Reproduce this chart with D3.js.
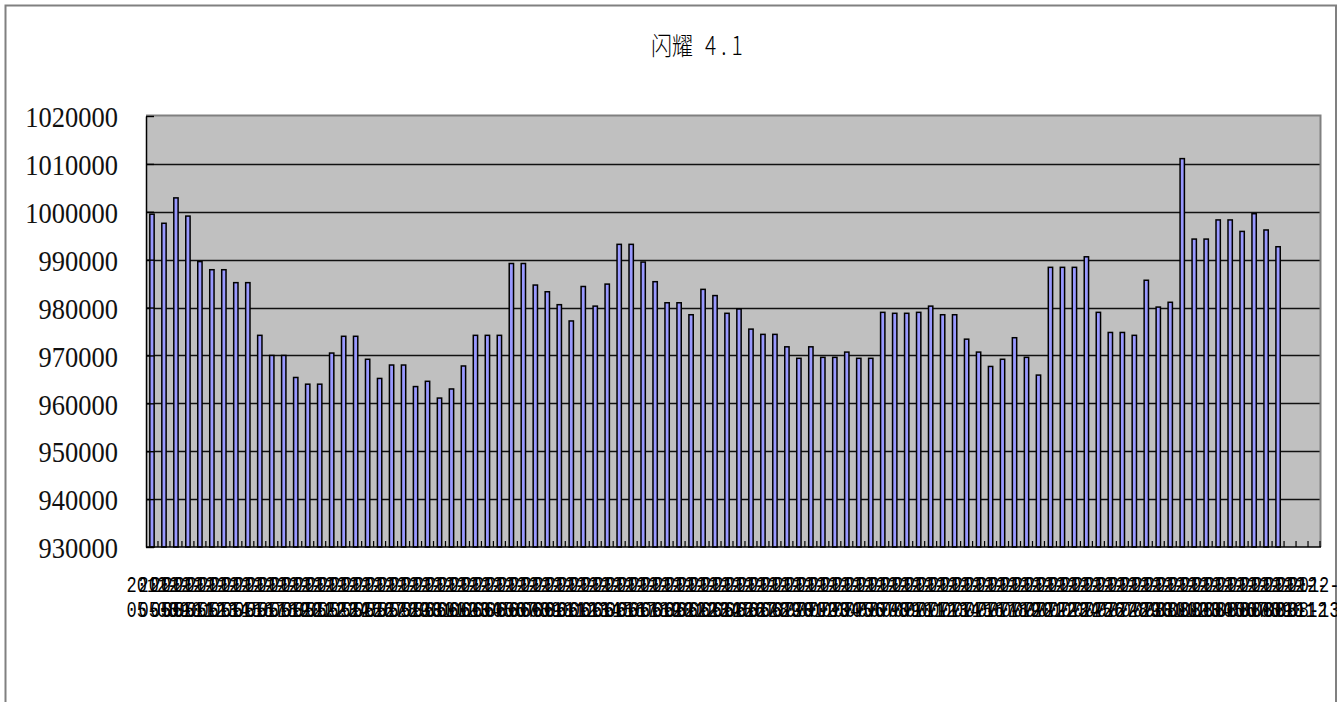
<!DOCTYPE html>
<html>
<head>
<meta charset="utf-8">
<script src="https://cdn.jsdelivr.net/npm/d3@7"></script>
<style>
  html, body { margin: 0; padding: 0; background: #fff; }
  svg { display: block; }
</style>
</head>
<body>
<svg id="chart" width="1343" height="702"></svg>
<script>
// category labels: year row + month-day row
var yearLabel = "2012-";
var dayLabels = [
  "05-08","05-09","05-10","05-11","05-12","05-13","05-14","05-15","05-16","05-17",
  "05-18","05-19","05-20","05-21","05-22","05-23","05-24","05-25","05-26","05-27",
  "05-28","05-29","05-30","05-31","06-01","06-02","06-03","06-04","06-05","06-06",
  "06-07","06-08","06-09","06-10","06-11","06-12","06-13","06-14","06-15","06-16",
  "06-17","06-18","06-19","06-20","06-21","06-22","06-23","06-24","06-25","06-26",
  "06-27","06-28","06-29","06-30","07-01","07-02","07-03","07-04","07-05","07-06",
  "07-07","07-08","07-09","07-10","07-11","07-12","07-13","07-14","07-15","07-16",
  "07-17","07-18","07-19","07-20","07-21","07-22","07-23","07-24","07-25","07-26",
  "07-27","07-28","07-29","07-30","07-31","08-01","08-02","08-03","08-04","08-05",
  "08-06","08-07","08-08","08-09","08-10","08-11","08-12","08-13"
];

// one value per day (last three days have no value yet)
var values = [
  999500, 997600, 1002900, 999100, 989600, 987900, 987900, 985200, 985200, 974200,
  970000, 970000, 965400, 964000, 964000, 970500, 974000, 974000, 969200, 965200,
  968000, 968000, 963500, 964600, 961100, 963000, 967800, 974200, 974200, 974200,
  989200, 989200, 984700, 983300, 980600, 977200, 984400, 980300, 984900, 993200,
  993200, 989500, 985400, 981000, 981000, 978500, 983800, 982500, 978800, 979700,
  975500, 974400, 974400, 971800, 969400, 971800, 969600, 969600, 970700, 969400,
  969400, 979000, 978800, 978800, 979000, 980300, 978500, 978500, 973400, 970700,
  967700, 969200, 973700, 969600, 965900, 988400, 988400, 988400, 990600, 979000,
  974800, 974800, 974200, 985700, 980100, 981100, 1011100, 994300, 994300, 998300,
  998300, 995900, 999600, 996200, 992700
];

var yTicks = [930000, 940000, 950000, 960000, 970000, 980000, 990000, 1000000, 1010000, 1020000];

var svg = d3.select("#chart");

// outer chart frame
svg.append("rect")
  .attr("x", 5.5).attr("y", 5.5)
  .attr("width", 1330.5).attr("height", 800)
  .attr("fill", "#fff")
  .attr("stroke", "#808080")
  .attr("stroke-width", 2);

var plotL = 146, plotR = 1320, plotT = 116, plotB = 547;

var x = d3.scaleBand()
  .domain(dayLabels)
  .range([plotL, plotR])
  .padding(0);

var y = d3.scaleLinear()
  .domain([930000, 1020000])
  .range([plotB, plotT]);

// plot area
svg.append("rect")
  .attr("x", plotL).attr("y", plotT)
  .attr("width", plotR - plotL).attr("height", plotB - plotT)
  .attr("fill", "#c0c0c0");

// gridlines
svg.append("g")
  .selectAll("line")
  .data(yTicks.slice(1, -1))
  .join("line")
  .attr("x1", plotL).attr("x2", plotR)
  .attr("y1", function(d) { return Math.round(y(d)) + 0.5 })
  .attr("y2", function(d) { return Math.round(y(d)) + 0.5 })
  .attr("stroke", "#111")
  .attr("stroke-width", 1.4);

// plot border (top, right)
svg.append("path")
  .attr("d", "M" + plotL + "," + (plotT - 0.5) + "H" + (plotR + 0.5) + "V" + plotB)
  .attr("fill", "none")
  .attr("stroke", "#808080")
  .attr("stroke-width", 2);

// bars
var barW = x.bandwidth() * 0.36;
svg.append("g")
  .selectAll("rect")
  .data(values)
  .join("rect")
  .attr("x", function(d, i) { return x(dayLabels[i]) + (x.bandwidth() - barW) / 2 })
  .attr("y", function(d) { return y(d) })
  .attr("width", barW)
  .attr("height", function(d) { return plotB - y(d) })
  .attr("fill", "#9999ff")
  .attr("stroke", "#000")
  .attr("stroke-width", 1.5);

// y axis, inside ticks
var yAxis = svg.append("g")
  .attr("transform", "translate(" + plotL + ",0)")
  .call(d3.axisLeft(y).tickValues(yTicks).tickSizeInner(-8).tickSizeOuter(0).tickFormat(d3.format("d")));
yAxis.select(".domain").attr("stroke", "#000").attr("stroke-width", 1.5);
yAxis.selectAll(".tick line").attr("stroke", "#000").attr("stroke-width", 1.4);
yAxis.selectAll(".tick text")
  .attr("x", -28)
  .attr("y", 0)
  .attr("dy", "0.36em")
  .attr("font-family", "'Liberation Serif', 'DejaVu Serif', serif")
  .attr("font-size", 26.5)
  .attr("fill", "#111")
  .attr("transform", "scale(1,1.12)");

// x axis line and inside ticks at category edges
svg.append("line")
  .attr("x1", plotL).attr("x2", plotR + 1)
  .attr("y1", plotB).attr("y2", plotB)
  .attr("stroke", "#000").attr("stroke-width", 1.5);

svg.append("g")
  .selectAll("line")
  .data(dayLabels.slice(1).concat(["end"]))
  .join("line")
  .attr("x1", function(d) { return d === "end" ? plotR : x(d) })
  .attr("x2", function(d) { return d === "end" ? plotR : x(d) })
  .attr("y1", plotB).attr("y2", plotB - 6)
  .attr("stroke", "#000").attr("stroke-width", 1.2);

// category labels, two rows each, overlapping like the original
var lab = svg.append("g")
  .attr("font-family", "'Liberation Mono', 'DejaVu Sans Mono', monospace")
  .attr("font-size", 17)
  .attr("fill", "#000")
  .attr("text-anchor", "middle");

lab.selectAll("text.yr")
  .data(dayLabels)
  .join("text")
  .attr("class", "yr")
  .attr("transform", function(d) { return "translate(" + (x(d) + x.bandwidth() / 2) + ",592) scale(1,1.3)" })
  .text(yearLabel);

lab.selectAll("text.md")
  .data(dayLabels)
  .join("text")
  .attr("class", "md")
  .attr("transform", function(d) { return "translate(" + (x(d) + x.bandwidth() / 2) + ",617) scale(1,1.3)" })
  .text(function(d) { return d });

// title
var title = svg.append("text")
  .attr("transform", "translate(651,55) scale(1,1.2)")
  .attr("font-family", "'Noto Sans CJK SC', sans-serif")
  .attr("font-size", 21)
  .attr("font-weight", 300)
  .attr("fill", "#000");
title.append("tspan").text("闪耀");
title.append("tspan").attr("dx", 12).attr("letter-spacing", 5).text("4.1");

// clip everything right of the frame
svg.append("rect")
  .attr("x", 1337).attr("y", 0).attr("width", 6).attr("height", 702)
  .attr("fill", "#fff");
</script>
</body>
</html>
